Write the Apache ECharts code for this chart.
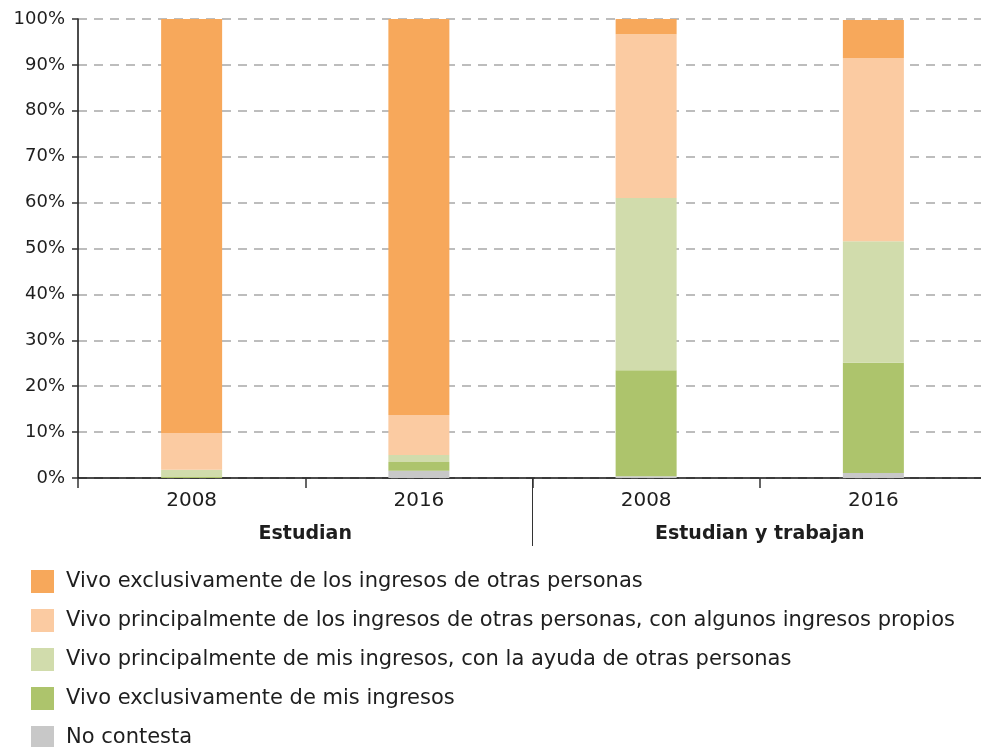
<!DOCTYPE html>
<html>
<head>
<meta charset="utf-8">
<script src="https://cdn.jsdelivr.net/npm/echarts@6/dist/echarts.min.js"></script>
<style>
  html, body { margin: 0; padding: 0; background: #fff; }
  #chart { width: 981px; height: 747px; }
</style>
</head>
<body>
<div id="chart"></div>
<script>
// data
const years = ['2008', '2016', '2008', '2016']
const groups = ['Estudian', 'Estudian y trabajan']
const noContesta = [0, 1.6, 0.4, 1.1]
const soloMios = [0.2, 1.9, 23.1, 24.0]
const misConAyuda = [1.6, 1.5, 37.5, 26.5]
const otrosConPropios = [8.0, 8.7, 35.7, 39.9]
const soloOtros = [90.2, 86.3, 3.3, 8.3]

const names = [
  'Vivo exclusivamente de los ingresos de otras personas',
  'Vivo principalmente de los ingresos de otras personas, con algunos ingresos propios',
  'Vivo principalmente de mis ingresos, con la ayuda de otras personas',
  'Vivo exclusivamente de mis ingresos',
  'No contesta'
]

const chart = echarts.init(document.getElementById('chart'))
const font = 'DejaVu Sans'
const txt = '#1e1e1e'

const bar = (name, data, color) => ({
  type: 'bar',
  name,
  stack: 'total',
  data,
  barWidth: 61,
  itemStyle: { color },
  emphasis: { disabled: true }
})

const option = {
  animation: false,
  textStyle: { fontFamily: font },
  grid: [
    { top: 19, left: 78, width: 909, height: 459, outerBoundsMode: 'none' },
    // strip under the axis for the group names and separator
    { top: 478, left: 78, width: 909, height: 68, outerBoundsMode: 'none' }
  ],
  legend: {
    orient: 'vertical',
    left: 31,
    top: 570,
    height: 220,
    padding: 0,
    itemWidth: 23,
    itemHeight: 23,
    itemGap: 16,
    icon: 'rect',
    textStyle: { fontSize: 21, color: txt, fontFamily: font, padding: [0, 0, 0, 7] },
    data: names
  },
  xAxis: [
    {
      type: 'category',
      data: years,
      axisLine: { lineStyle: { color: '#111', width: 1.5 } },
      axisTick: { show: true, length: 10, lineStyle: { color: '#333', width: 1.5 } },
      axisLabel: { fontSize: 20, color: txt, margin: 13 }
    },
    {
      type: 'category',
      gridIndex: 1,
      data: groups,
      axisLine: { show: false },
      axisTick: { show: false },
      axisLabel: { inside: true, fontSize: 19, color: txt, fontWeight: 'bold', margin: 2 },
      splitLine: {
        show: true,
        showMinLine: false,
        showMaxLine: false,
        lineStyle: { color: '#333', width: 1 }
      }
    }
  ],
  yAxis: [
    {
      type: 'value',
      min: 0,
      max: 100,
      interval: 10,
      axisLine: { show: true, lineStyle: { color: '#111', width: 1.5 } },
      axisTick: { show: true, length: 6, lineStyle: { color: '#333', width: 1.5 } },
      axisLabel: { formatter: '{value}%', fontSize: 18, color: txt, margin: 13 },
      splitLine: {
        show: true,
        lineStyle: { color: '#a8a8a8', type: [9, 7], width: 1.5 }
      }
    },
    { type: 'value', gridIndex: 1, show: false }
  ],
  series: [
    bar(names[4], noContesta, '#c8c8c8'),
    bar(names[3], soloMios, '#adc46c'),
    bar(names[2], misConAyuda, '#d1dcac'),
    bar(names[1], otrosConPropios, '#fbcba2'),
    bar(names[0], soloOtros, '#f7a85b')
  ]
}
chart.setOption(option)
</script>
</body>
</html>
